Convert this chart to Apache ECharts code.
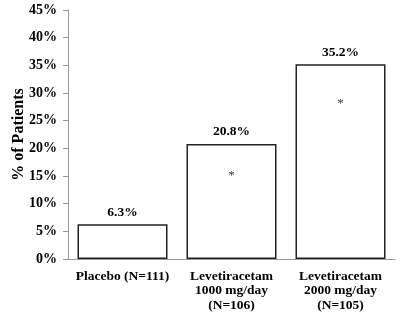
<!DOCTYPE html>
<html>
<head>
<meta charset="utf-8">
<script src="https://cdn.jsdelivr.net/npm/echarts@6/dist/echarts.min.js"></script>
<style>
  html, body { margin: 0; padding: 0; background: #fff; }
  #chart { width: 400px; height: 317px; }
</style>
</head>
<body>
<div id="chart"></div>
<script>
const categories = ["Placebo (N=111)", "Levetiracetam\n1000 mg/day\n(N=106)", "Levetiracetam\n2000 mg/day\n(N=105)"];
const values = [6.3, 20.8, 35.2];
// where the significance asterisk sits inside each bar (% scale)
const starPos = [null, 15, 28];
const yTicks = [0, 5, 10, 15, 20, 25, 30, 35, 40, 45];

const font = "'Liberation Serif', 'Times New Roman', serif";

const chart = echarts.init(document.getElementById("chart"));
chart.setOption({
  animation: false,
  grid: { left: 68, right: 5, top: 10, bottom: 58, outerBoundsMode: "none" },
  xAxis: {
    type: "category",
    data: categories,
    axisLine: { lineStyle: { color: "#999", width: 1 } },
    axisTick: { show: false },
    axisLabel: {
      color: "#000", fontFamily: font, fontWeight: "bold", fontSize: 13.5,
      lineHeight: 14.5, margin: 10, interval: 0
    }
  },
  yAxis: {
    type: "value",
    min: yTicks[0],
    max: yTicks[yTicks.length - 1],
    interval: 5,
    name: "% of Patients",
    nameLocation: "middle",
    nameGap: 41,
    nameMoveOverlap: false,
    nameTextStyle: { color: "#000", fontFamily: font, fontWeight: "bold", fontSize: 16 },
    splitLine: { show: false },
    axisLine: { show: true, lineStyle: { color: "#999", width: 1 } },
    axisTick: { show: true, length: 5, lineStyle: { color: "#999" } },
    axisLabel: {
      color: "#000", fontFamily: font, fontWeight: "bold", fontSize: 14,
      margin: 11, formatter: "{value}%"
    }
  },
  series: [
    {
      type: "bar",
      data: values,
      barWidth: 90,
      itemStyle: { color: "#fff", borderColor: "#222", borderWidth: 1.5 },
      label: {
        show: true, position: "top", distance: 5,
        color: "#000", fontFamily: font, fontWeight: "bold", fontSize: 13.5,
        formatter: (p) => p.value.toFixed(1) + "%"
      }
    },
    {
      type: "scatter",
      data: starPos,
      symbolSize: 0,
      silent: true,
      label: {
        show: true, position: "inside", formatter: "*",
        color: "#000", fontFamily: font, fontSize: 13
      }
    }
  ]
});
</script>
</body>
</html>
